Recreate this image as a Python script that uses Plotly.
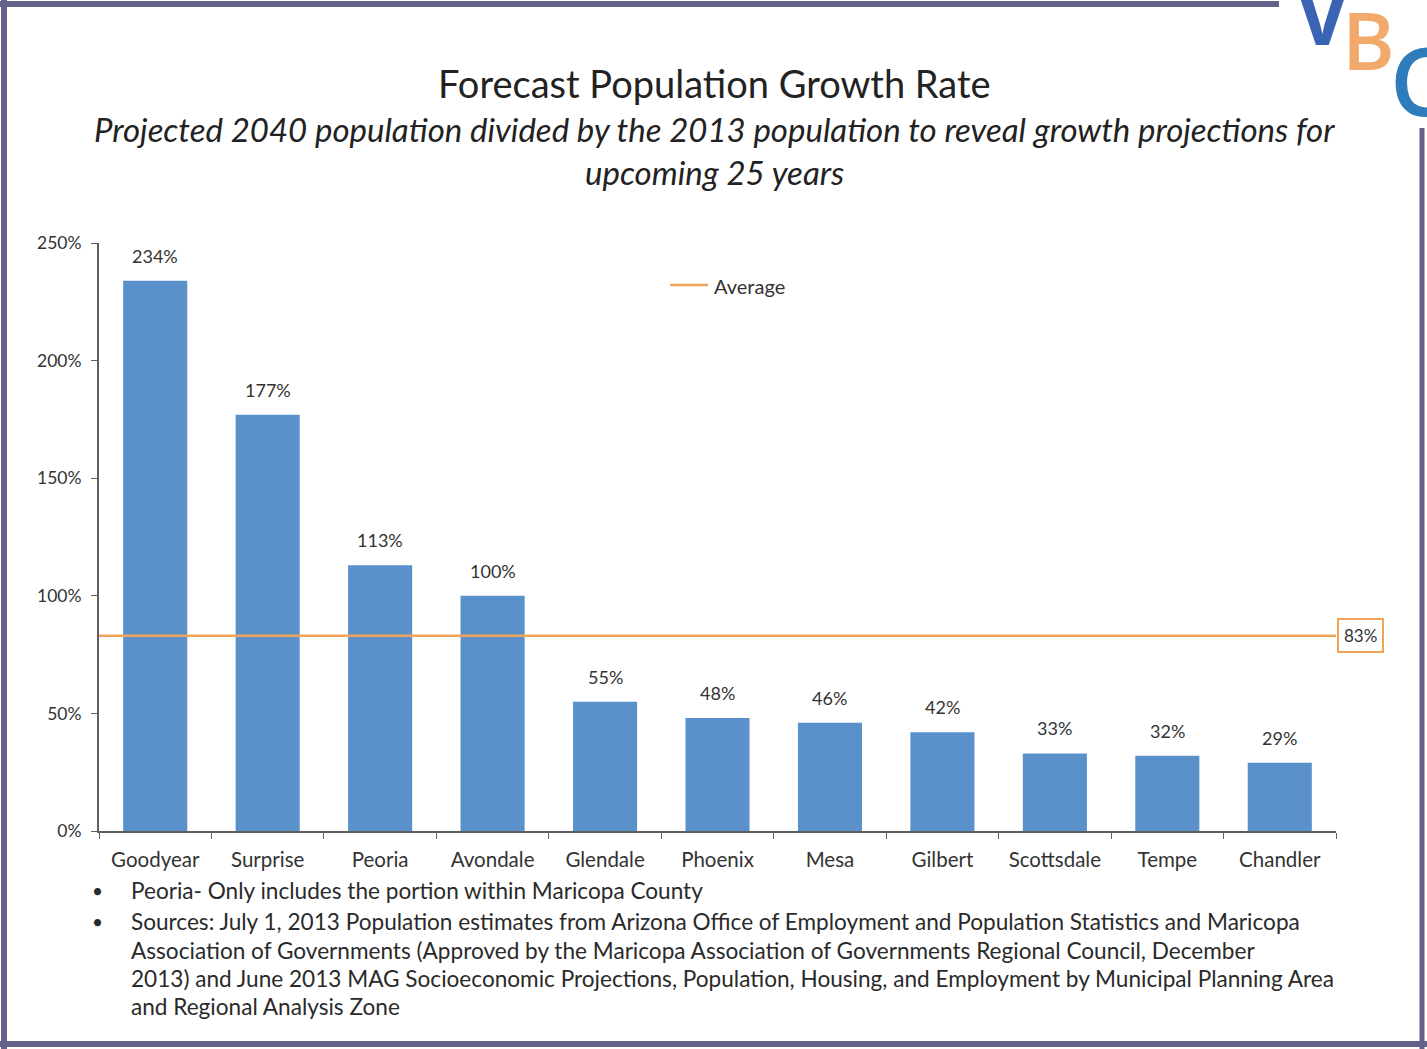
import plotly.graph_objects as go

# Growth of projected 2040 population over 2013 population, by city (%)
cities = ["Goodyear", "Surprise", "Peoria", "Avondale", "Glendale", "Phoenix",
          "Mesa", "Gilbert", "Scottsdale", "Tempe", "Chandler"]
growth_pct = [234, 177, 113, 100, 55, 48, 46, 42, 33, 32, 29]
average_pct = 83
average_name = "Average"

y_ticks = [0, 50, 100, 150, 200, 250]
y_tick_labels = ["0%", "50%", "100%", "150%", "200%", "250%"]

title_text = "Forecast Population Growth Rate"
subtitle_lines = [
    "Projected 2040 population divided by the 2013 population to reveal growth projections for",
    "upcoming 25 years",
]
footnote_lines = [
    "Peoria- Only includes the portion within Maricopa County",
    "Sources: July 1, 2013 Population estimates from Arizona Office of Employment and Population Statistics and Maricopa",
    "Association of Governments (Approved by the Maricopa Association of Governments Regional Council, December",
    "2013) and June 2013 MAG Socioeconomic Projections, Population, Housing, and Employment by Municipal Planning Area",
    "and Regional Analysis Zone",
]
bullet_rows = [0, 1]

# Page geometry (pixels)
W, H = 1427, 1049
L, R, T, B = 99, 1336, 243, 831

BAR_BLUE = "#5b91cb"
AVG_ORANGE = "#f0a45a"
TEXT = "#333333"
FRAME = "#62628a"
FONT = "Lato, 'Open Sans', sans-serif"


def px(x):
    return (x - L) / (R - L)


def py(y):
    return (B - y) / (B - T)


fig = go.Figure()

fig.add_trace(go.Bar(
    x=cities, y=growth_pct, marker=dict(color=BAR_BLUE, line=dict(width=0)),
    showlegend=False, hoverinfo="x+y",
))

annotations = []

# Value labels above bars
for c, v in zip(cities, growth_pct):
    annotations.append(dict(
        x=c, y=v, xref="x", yref="y", text=f"{v}%", showarrow=False,
        yanchor="bottom", yshift=12, font=dict(size=18, color=TEXT, family=FONT),
    ))

# Average value box at the right end of the line
annotations.append(dict(
    x=px(1360), y=average_pct, xref="paper", yref="y", text=f"{average_pct}%",
    showarrow=False, xanchor="center", yanchor="middle",
    font=dict(size=17, color=TEXT, family=FONT),
    bordercolor=AVG_ORANGE, borderwidth=2, borderpad=5, bgcolor="white",
))

# Legend key for the average line
annotations.append(dict(
    x=px(712), y=py(286), xref="paper", yref="paper", text=average_name,
    showarrow=False, xanchor="left", yanchor="middle",
    font=dict(size=20, color=TEXT, family=FONT),
))

# Title and subtitle
annotations.append(dict(
    x=px(714), y=py(83), xref="paper", yref="paper", text=title_text,
    showarrow=False, xanchor="center", yanchor="middle",
    font=dict(size=38, color="#222222", family=FONT),
))
for i, line in enumerate(subtitle_lines):
    annotations.append(dict(
        x=px(714), y=py(129 + 43 * i), xref="paper", yref="paper",
        text=f"<i>{line}</i>", showarrow=False, xanchor="center", yanchor="middle",
        font=dict(size=33, color="#222222", family=FONT),
    ))

# Footnotes
for i, line in enumerate(footnote_lines):
    yy = [891, 922, 950, 978, 1006][i]
    annotations.append(dict(
        x=px(129), y=py(yy), xref="paper", yref="paper", text=line,
        showarrow=False, xanchor="left", yanchor="middle",
        font=dict(size=22.6, color="#2a2a2a", family=FONT),
    ))
    if i in bullet_rows:
        annotations.append(dict(
            x=px(97), y=py(yy), xref="paper", yref="paper", text="•",
            showarrow=False, xanchor="center", yanchor="middle",
            font=dict(size=19, color="#2a2a2a", family=FONT),
        ))

# Corner logo letters
logo = [("V", 1322, 15, 78, "#3a63b4", True), ("B", 1368, 38, 80, "#f2aa6c", False),
        ("C", 1420, 80, 94, "#2f7cbc", False)]
for ch, lx, ly, size, col, heavy in logo:
    annotations.append(dict(
        x=px(lx), y=py(ly), xref="paper", yref="paper",
        text=f"<b>{ch}</b>" if heavy else ch,
        showarrow=False, xanchor="center", yanchor="middle",
        font=dict(size=size, color=col, family="'Open Sans', sans-serif",
                  weight=600 if not heavy else 700),
    ))

shapes = [
    # average line across the plot
    dict(type="line", xref="paper", yref="y", x0=0, x1=px(1336),
         y0=average_pct, y1=average_pct, line=dict(color=AVG_ORANGE, width=2.5)),
    # legend line sample
    dict(type="line", xref="paper", yref="paper", x0=px(670), x1=px(708),
         y0=py(285), y1=py(285), line=dict(color=AVG_ORANGE, width=2.5)),
    # slide frame
    dict(type="line", xref="paper", yref="paper", x0=px(0), x1=px(1279),
         y0=py(4), y1=py(4), line=dict(color=FRAME, width=6)),
    dict(type="line", xref="paper", yref="paper", x0=px(4), x1=px(4),
         y0=py(0), y1=py(1049), line=dict(color=FRAME, width=6)),
    dict(type="line", xref="paper", yref="paper", x0=px(0), x1=px(1427),
         y0=py(1044), y1=py(1044), line=dict(color=FRAME, width=6)),
    dict(type="line", xref="paper", yref="paper", x0=px(1422), x1=px(1422),
         y0=py(128), y1=py(1049), line=dict(color=FRAME, width=5)),
]

fig.update_layout(
    width=W, height=H,
    margin=dict(l=L, r=W - R, t=T, b=H - B, pad=0),
    paper_bgcolor="white", plot_bgcolor="white",
    bargap=0.43,
    font=dict(family=FONT, color=TEXT),
    showlegend=False,
    annotations=annotations,
    shapes=shapes,
)

fig.update_xaxes(
    showline=True, linecolor="#5e5e5e", linewidth=2,
    ticks="outside", tickson="boundaries", ticklen=6, tickcolor="#5e5e5e",
    tickfont=dict(size=20.5, color=TEXT, family=FONT), ticklabelstandoff=9,
    showgrid=False, zeroline=False,
)
fig.update_yaxes(
    range=[0, 250], tickvals=y_ticks, ticktext=y_tick_labels,
    showline=True, linecolor="#5e5e5e", linewidth=2,
    ticks="outside", ticklen=6, tickcolor="#5e5e5e",
    tickfont=dict(size=17.5, color=TEXT, family=FONT), ticklabelstandoff=6,
    showgrid=False, zeroline=False,
)

fig.write_html("out.html")
